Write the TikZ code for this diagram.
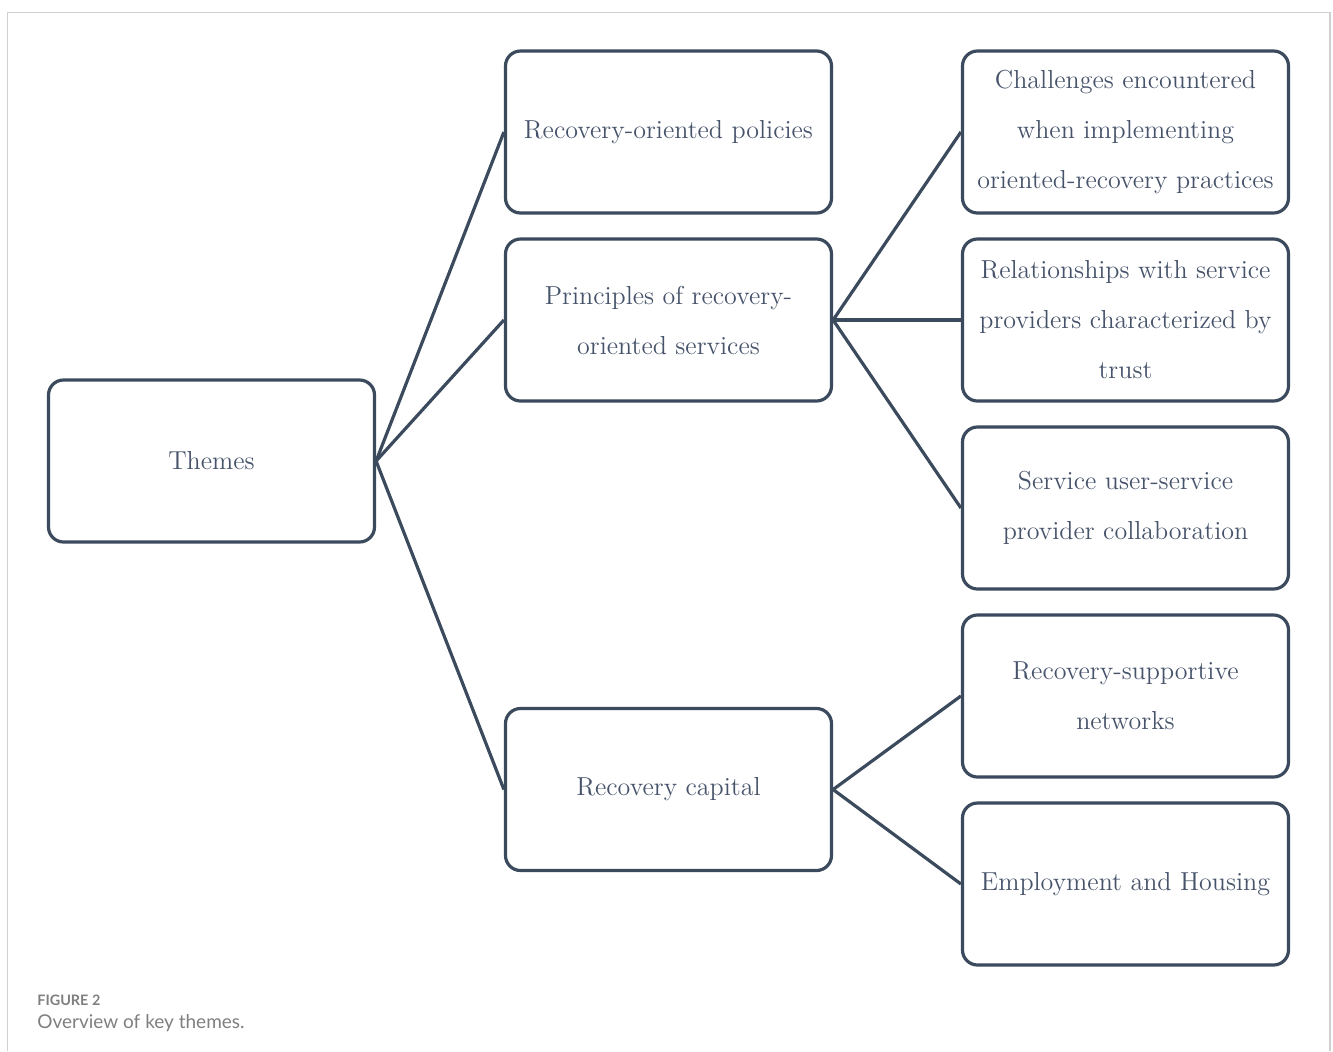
\documentclass[tikz,border=0pt]{standalone}
\usepackage{fontspec}
\newfontfamily\capfont{Lato}
\usetikzlibrary{positioning}
\definecolor{boxline}{HTML}{3B4A5C}
\definecolor{boxtext}{HTML}{46536A}
\definecolor{framegray}{HTML}{D0D0D0}
\definecolor{capgray}{HTML}{7F7F7F}
\tikzset{theme/.style={draw=boxline, line width=1.6pt, rounded corners=7.5pt,
    minimum width=163pt, minimum height=81pt, inner sep=0pt, align=center,
    text=boxtext, font=\fontsize{13}{25}\selectfont},
  link/.style={boxline, line width=1.6pt}}
\begin{document}
\begin{tikzpicture}[x=0.5pt,y=-0.5pt]
	\useasboundingbox (0,0) rectangle (1333,1051);
	% outer frame
	\draw [framegray, line width=0.75pt] (7.5,1051) -- (7.5,12.5) -- (1330,12.5) -- (1330,1051);
	% root
	\node [theme] (themes) at (211.5,461) {Themes};
	% themes
	\node [theme] (policies) at (668.5,132) {Recovery-oriented policies};
	\node [theme] (principles) at (668.5,320) {Principles of recovery-\\oriented services};
	\node [theme] (capital) at (668.5,789.5) {Recovery capital};
	% subthemes
	\node [theme] (challenges) at (1125.5,132) {Challenges encountered\\when implementing\\oriented-recovery practices};
	\node [theme] (trust) at (1125.5,320) {Relationships with service\\providers characterized by\\trust};
	\node [theme] (collab) at (1125.5,508) {Service user-service\\provider collaboration};
	\node [theme] (networks) at (1125.5,696) {Recovery-supportive\\networks};
	\node [theme] (housing) at (1125.5,884) {Employment and Housing};
	% connectors
	\foreach \t in {policies,principles,capital}
		\draw [link] (themes.east) -- (\t.west);
	\foreach \s in {challenges,trust,collab}
		\draw [link] (principles.east) -- (\s.west);
	\foreach \s in {networks,housing}
		\draw [link] (capital.east) -- (\s.west);
	% caption
	\node [anchor=base west, inner sep=0pt, text=capgray, font=\capfont\bfseries\fontsize{7.2}{8}\selectfont] (fignum) at (37,1005) {FIGURE 2};
	\node [anchor=base west, inner sep=0pt, text=capgray, font=\capfont\fontsize{9.5}{11}\selectfont] (figcap) at (37,1028) {Overview of key themes.};
\end{tikzpicture}
\end{document}
